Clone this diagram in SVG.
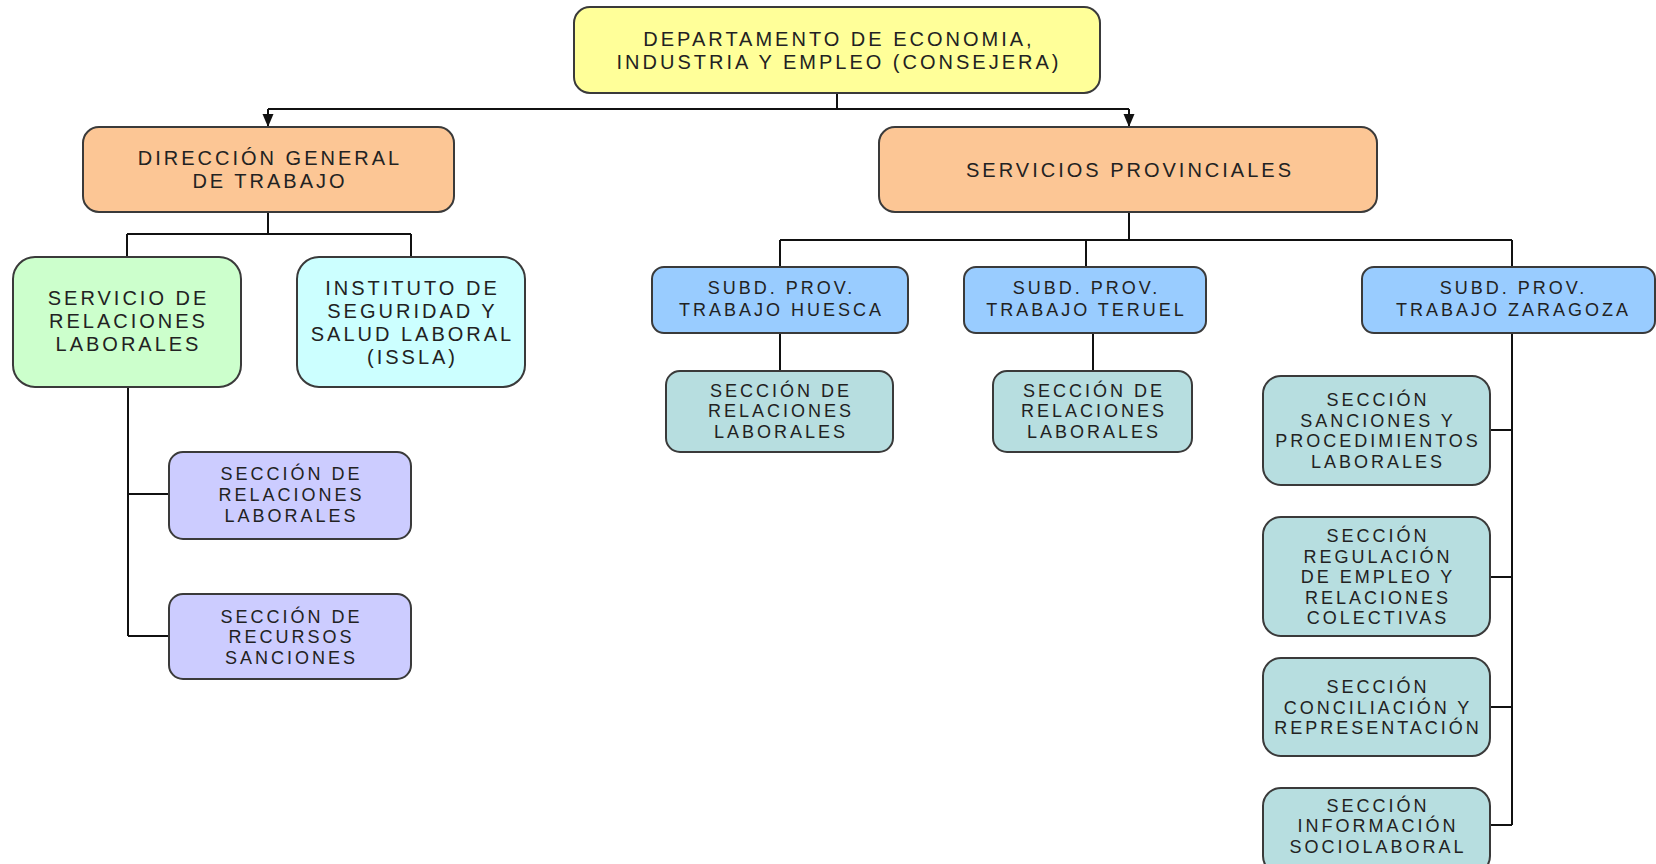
<svg xmlns="http://www.w3.org/2000/svg" width="1656" height="864" viewBox="0 0 1656 864">
<defs>
<marker id="arr" markerWidth="14" markerHeight="14" refX="13" refY="7" orient="auto" markerUnits="userSpaceOnUse" viewBox="0 0 14 14">
<path d="M0,1.5 L13,7 L0,12.5 Z" fill="#111"/>
</marker>
<style>
.box{stroke:#3a3a3a;stroke-width:2}
.t20{font-family:"Liberation Sans",Arial,sans-serif;font-size:20px;letter-spacing:3px;fill:#222;text-anchor:middle}
.t18{font-family:"Liberation Sans",Arial,sans-serif;font-size:18px;letter-spacing:3px;fill:#222;text-anchor:middle}
.yel{fill:#FFFF99}.ora{fill:#FCC695}.grn{fill:#CCFFCC}.cya{fill:#CCFFFF}.blu{fill:#99CCFF}.tea{fill:#B7DEE0}.pur{fill:#CCCCFF}
.con{fill:none;stroke:#111;stroke-width:2}
</style>
</defs>
<rect width="1656" height="864" fill="#fff"/>
<g id="connectors">
<path class="con" d="M837,93 V109 M268,109 H1129"/>
<path class="con" d="M268,109 V127" marker-end="url(#arr)"/>
<path class="con" d="M1129,109 V127" marker-end="url(#arr)"/>
<path class="con" d="M268,212 V234 M127,234 H411 M127,234 V257 M411,234 V257"/>
<path class="con" d="M128,387 V636 M128,494 H169 M128,636 H169"/>
<path class="con" d="M1129,212 V240 M780,240 H1512 M780,240 V267 M1086,240 V267 M1512,240 V267"/>
<path class="con" d="M780,333 V371 M1093,333 V371"/>
<path class="con" d="M1512,333 V825 M1490,430 H1512 M1490,577 H1512 M1490,707 H1512 M1490,825 H1512"/>
</g>
<g id="n-departamento">
<rect class="box yel" x="574" y="7" width="526" height="86" rx="16"/>
<text class="t20" x="839" y="45.5">DEPARTAMENTO DE ECONOMIA,</text>
<text class="t20" x="839" y="68.5">INDUSTRIA Y EMPLEO (CONSEJERA)</text>
</g>
<g id="n-direccion">
<rect class="box ora" x="83" y="127" width="371" height="85" rx="16"/>
<text class="t20" x="270" y="165">DIRECCIÓN GENERAL</text>
<text class="t20" x="270" y="188">DE TRABAJO</text>
</g>
<g id="n-servicios">
<rect class="box ora" x="879" y="127" width="498" height="85" rx="16"/>
<text class="t20" x="1130" y="177">SERVICIOS PROVINCIALES</text>
</g>
<g id="n-servicio-rl">
<rect class="box grn" x="13" y="257" width="228" height="130" rx="22"/>
<text class="t20" x="128.5" y="305">SERVICIO DE</text>
<text class="t20" x="128.5" y="328">RELACIONES</text>
<text class="t20" x="128.5" y="351">LABORALES</text>
</g>
<g id="n-issla">
<rect class="box cya" x="297" y="257" width="228" height="130" rx="22"/>
<text class="t20" x="412.5" y="294.5">INSTITUTO DE</text>
<text class="t20" x="412.5" y="317.5">SEGURIDAD Y</text>
<text class="t20" x="412.5" y="340.5">SALUD LABORAL</text>
<text class="t20" x="412.5" y="363.5">(ISSLA)</text>
</g>
<g id="n-sec-rl">
<rect class="box pur" x="169" y="452" width="242" height="87" rx="14"/>
<text class="t18" x="291.5" y="479.5">SECCIÓN DE</text>
<text class="t18" x="291.5" y="500.5">RELACIONES</text>
<text class="t18" x="291.5" y="521.5">LABORALES</text>
</g>
<g id="n-sec-rs">
<rect class="box pur" x="169" y="594" width="242" height="85" rx="14"/>
<text class="t18" x="291.5" y="622.5">SECCIÓN DE</text>
<text class="t18" x="291.5" y="643">RECURSOS</text>
<text class="t18" x="291.5" y="663.5">SANCIONES</text>
</g>
<g id="n-huesca">
<rect class="box blu" x="652" y="267" width="256" height="66" rx="12"/>
<text class="t18" x="781.5" y="294">SUBD. PROV.</text>
<text class="t18" x="781.5" y="316">TRABAJO HUESCA</text>
</g>
<g id="n-teruel">
<rect class="box blu" x="964" y="267" width="242" height="66" rx="12"/>
<text class="t18" x="1086.5" y="294">SUBD. PROV.</text>
<text class="t18" x="1086.5" y="316">TRABAJO TERUEL</text>
</g>
<g id="n-zaragoza">
<rect class="box blu" x="1362" y="267" width="293" height="66" rx="12"/>
<text class="t18" x="1513.5" y="294">SUBD. PROV.</text>
<text class="t18" x="1513.5" y="316">TRABAJO ZARAGOZA</text>
</g>
<g id="n-huesca-sec">
<rect class="box tea" x="666" y="371" width="227" height="81" rx="14"/>
<text class="t18" x="781" y="396.5">SECCIÓN DE</text>
<text class="t18" x="781" y="417">RELACIONES</text>
<text class="t18" x="781" y="437.5">LABORALES</text>
</g>
<g id="n-teruel-sec">
<rect class="box tea" x="993" y="371" width="199" height="81" rx="14"/>
<text class="t18" x="1094" y="396.5">SECCIÓN DE</text>
<text class="t18" x="1094" y="417">RELACIONES</text>
<text class="t18" x="1094" y="437.5">LABORALES</text>
</g>
<g id="n-zar-sanciones">
<rect class="box tea" x="1263" y="376" width="227" height="109" rx="18"/>
<text class="t18" x="1378" y="406">SECCIÓN</text>
<text class="t18" x="1378" y="427">SANCIONES Y</text>
<text class="t18" x="1378" y="447">PROCEDIMIENTOS</text>
<text class="t18" x="1378" y="468">LABORALES</text>
</g>
<g id="n-zar-regulacion">
<rect class="box tea" x="1263" y="517" width="227" height="119" rx="18"/>
<text class="t18" x="1378" y="542">SECCIÓN</text>
<text class="t18" x="1378" y="562.5">REGULACIÓN</text>
<text class="t18" x="1378" y="583">DE EMPLEO Y</text>
<text class="t18" x="1378" y="603.5">RELACIONES</text>
<text class="t18" x="1378" y="624">COLECTIVAS</text>
</g>
<g id="n-zar-conciliacion">
<rect class="box tea" x="1263" y="658" width="227" height="98" rx="18"/>
<text class="t18" x="1378" y="693">SECCIÓN</text>
<text class="t18" x="1378" y="713.5">CONCILIACIÓN Y</text>
<text class="t18" x="1378" y="734">REPRESENTACIÓN</text>
</g>
<g id="n-zar-informacion">
<rect class="box tea" x="1263" y="788" width="227" height="86" rx="18"/>
<text class="t18" x="1378" y="811.5">SECCIÓN</text>
<text class="t18" x="1378" y="832">INFORMACIÓN</text>
<text class="t18" x="1378" y="852.5">SOCIOLABORAL</text>
</g>
</svg>
